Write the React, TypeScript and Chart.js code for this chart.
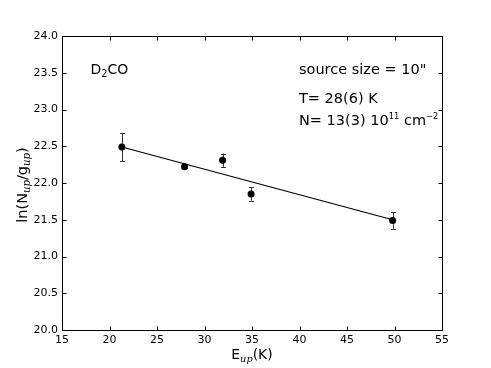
import React, { useEffect, useRef } from "react";
import { Chart, registerables } from "chart.js";
Chart.register(...registerables);

const energies = [21.3, 27.9, 31.9, 34.9, 49.8];
const lnN = [22.49, 22.22, 22.31, 21.85, 21.49];
const errors = [0.19, 0.02, 0.09, 0.09, 0.11];
const fitE = [21.3, 49.8];
const fitLn = [22.49, 21.5];
const xTickValues = [15, 20, 25, 30, 35, 40, 45, 50, 55];
const yTickValues = [20, 20.5, 21, 21.5, 22, 22.5, 23, 23.5, 24];

const FONT = '"DejaVu Sans", sans-serif';

type Seg = { t: string; sub?: boolean; sup?: boolean; upright?: boolean };

function segFont(s: Seg, size: number) {
  if (s.sub && !s.upright) return `italic ${(size * 0.7).toFixed(1)}px "DejaVu Serif", serif`;
  if (s.sub) return `${(size * 0.7).toFixed(1)}px ${FONT}`;
  if (s.sup) return `${(size * 0.58).toFixed(1)}px ${FONT}`;
  return `${size}px ${FONT}`;
}

function drawRich(ctx: CanvasRenderingContext2D, segs: Seg[], x: number, y: number, size: number, align: "left" | "center") {
  const widths = segs.map((s) => {
    ctx.font = segFont(s, size);
    return ctx.measureText(s.t).width;
  });
  const total = widths.reduce((a, b) => a + b, 0);
  let cx = align === "center" ? x - total / 2 : x;
  ctx.textBaseline = "alphabetic";
  ctx.textAlign = "left";
  const base = y + size * 0.36;
  segs.forEach((s, i) => {
    let yy = base;
    ctx.font = segFont(s, size);
    if (s.sub) yy = base + size * 0.2;
    else if (s.sup) yy = base - size * 0.4;
    ctx.fillText(s.t, cx, yy);
    cx += widths[i];
  });
}

const overlay = {
  id: "overlay",
  beforeDatasetsDraw(chart: any) {
    const ctx = chart.ctx as CanvasRenderingContext2D;
    const xs = chart.scales.x;
    const ys = chart.scales.y;
    ctx.save();
    ctx.strokeStyle = "#333";
    ctx.lineWidth = 1;
    energies.forEach((e, i) => {
      const px = Math.round(xs.getPixelForValue(e)) + 0.5;
      const top = ys.getPixelForValue(lnN[i] + errors[i]);
      const bot = ys.getPixelForValue(lnN[i] - errors[i]);
      ctx.beginPath();
      ctx.moveTo(px, top);
      ctx.lineTo(px, bot);
      ctx.moveTo(px - 2.5, Math.round(top) + 0.5);
      ctx.lineTo(px + 2.5, Math.round(top) + 0.5);
      ctx.moveTo(px - 2.5, Math.round(bot) + 0.5);
      ctx.lineTo(px + 2.5, Math.round(bot) + 0.5);
      ctx.stroke();
    });
    ctx.restore();
  },
  afterDraw(chart: any) {
    const ctx = chart.ctx as CanvasRenderingContext2D;
    const a = chart.chartArea;
    const xs = chart.scales.x;
    const ys = chart.scales.y;
    ctx.save();
    ctx.strokeStyle = "#000";
    ctx.lineWidth = 1;
    const L = Math.round(a.left) + 0.5;
    const R = Math.round(a.right) + 0.5;
    const T = Math.round(a.top) + 0.5;
    const B = Math.round(a.bottom) + 0.5;
    ctx.strokeRect(L, T, R - L, B - T);
    ctx.beginPath();
    xTickValues.forEach((v) => {
      const px = Math.round(xs.getPixelForValue(v)) + 0.5;
      ctx.moveTo(px, B);
      ctx.lineTo(px, B - 4);
      ctx.moveTo(px, T);
      ctx.lineTo(px, T + 4);
    });
    yTickValues.forEach((v) => {
      const py = Math.round(ys.getPixelForValue(v)) + 0.5;
      ctx.moveTo(L, py);
      ctx.lineTo(L + 4, py);
      ctx.moveTo(R, py);
      ctx.lineTo(R - 4, py);
    });
    ctx.stroke();

    ctx.fillStyle = "#000";
    // x title
    drawRich(ctx, [{ t: "E" }, { t: "up", sub: true }, { t: "(K)" }], (a.left + a.right) / 2, 354, 14, "center");
    // y title
    ctx.save();
    ctx.translate(22, (a.top + a.bottom) / 2 + 2);
    ctx.rotate(-Math.PI / 2);
    drawRich(ctx, [{ t: "ln(N" }, { t: "up", sub: true }, { t: "/g" }, { t: "up", sub: true }, { t: ")" }], 0, 0, 14.5, "center");
    ctx.restore();

    // annotations
    drawRich(ctx, [{ t: "D" }, { t: "2", sub: true, upright: true }, { t: "CO" }], 90.5, 69, 14, "left");
    drawRich(ctx, [{ t: 'source size = 10"' }], 299, 69, 14.5, "left");
    drawRich(ctx, [{ t: "T= 28(6) K" }], 299, 98, 14.5, "left");
    drawRich(ctx, [{ t: "N= 13(3) 10" }, { t: "11", sup: true }, { t: " cm" }, { t: "\u22122", sup: true }], 299, 120, 14.5, "left");
    ctx.restore();
  },
};

export default function App() {
  const ref = useRef<HTMLCanvasElement | null>(null);
  useEffect(() => {
    if (!ref.current) return;
    const chart = new Chart(ref.current, {
      type: "scatter",
      data: {
        datasets: [
          {
            label: "data",
            data: energies.map((e, i) => ({ x: e, y: lnN[i] })),
            pointRadius: 3.5,
            pointBackgroundColor: "#000",
            pointBorderColor: "#000",
            pointBorderWidth: 0,
            showLine: false,
          },
          {
            label: "fit",
            type: "line",
            data: fitE.map((e, i) => ({ x: e, y: fitLn[i] })),
            borderColor: "#000",
            borderWidth: 1.2,
            pointRadius: 0,
            showLine: true,
            fill: false,
          } as any,
        ],
      },
      options: {
        animation: false,
        responsive: true,
        maintainAspectRatio: false,
        layout: { padding: { left: 0, top: 36, right: 49, bottom: 0 } },
        plugins: { legend: { display: false }, tooltip: { enabled: false } },
        scales: {
          x: {
            type: "linear",
            min: 15,
            max: 55,
            grid: { display: false, drawTicks: false },
            border: { display: false },
            ticks: { stepSize: 5, color: "#000", font: { family: FONT, size: 11 }, padding: 4 },
            afterFit: (s: any) => {
              s.height = 38;
            },
          },
          y: {
            type: "linear",
            min: 20,
            max: 24,
            grid: { display: false, drawTicks: false },
            border: { display: false },
            ticks: {
              stepSize: 0.5,
              color: "#000",
              font: { family: FONT, size: 11 },
              padding: 4,
              callback: (v: any) => Number(v).toFixed(1),
            },
            afterFit: (s: any) => {
              s.width = 62;
            },
          },
        },
      },
      plugins: [overlay],
    });
    return () => chart.destroy();
  }, []);
  return (
    <div style={{ position: "fixed", left: 0, top: 0, width: 491, height: 368, background: "#fff" }}>
      <canvas ref={ref} />
    </div>
  );
}
